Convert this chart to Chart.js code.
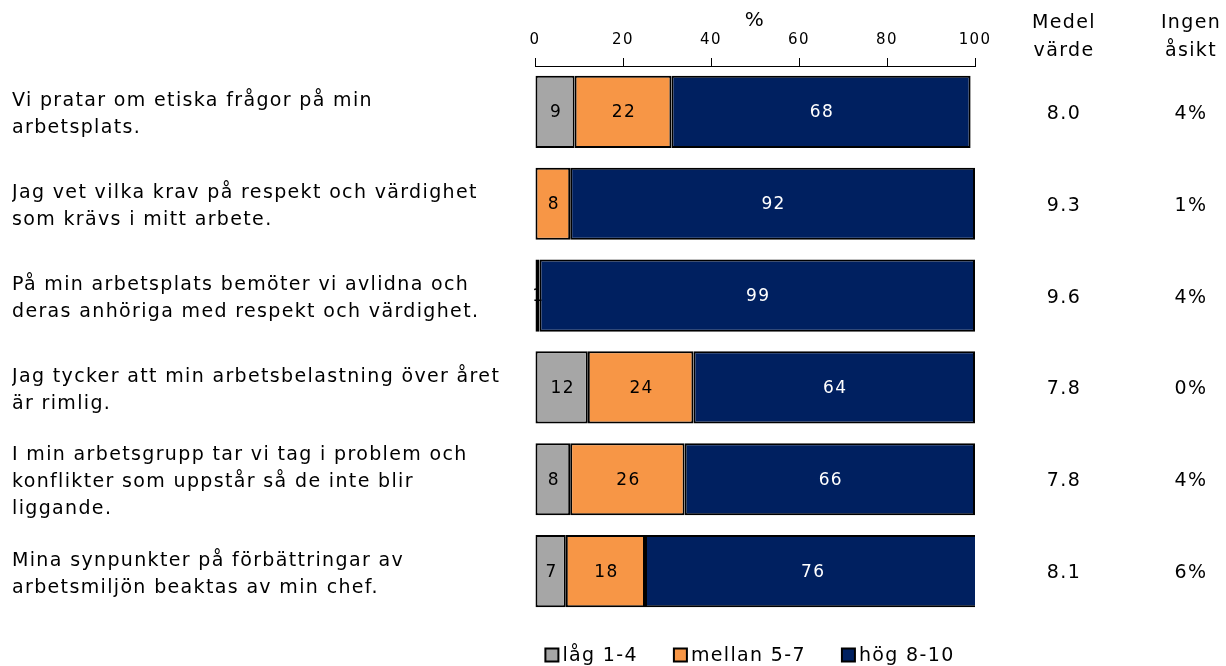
<!DOCTYPE html>
<html>
<head>
<meta charset="utf-8">
<script src="https://cdn.jsdelivr.net/npm/chart.js@4/dist/chart.umd.min.js"></script>
<style>
  body { margin: 0; background: #fff; }
</style>
</head>
<body>
<canvas id="chart" width="1226" height="666"></canvas>
<script>
const categories = [
  ['Vi pratar om etiska frågor på min', 'arbetsplats.'],
  ['Jag vet vilka krav på respekt och värdighet', 'som krävs i mitt arbete.'],
  ['På min arbetsplats bemöter vi avlidna och', 'deras anhöriga med respekt och värdighet.'],
  ['Jag tycker att min arbetsbelastning över året', 'är rimlig.'],
  ['I min arbetsgrupp tar vi tag i problem och', 'konflikter som uppstår så de inte blir', 'liggande.'],
  ['Mina synpunkter på förbättringar av', 'arbetsmiljön beaktas av min chef.']
];
const lag = [9, 0, 0, 12, 8, 7];
const mellan = [22, 8, 1, 24, 26, 18];
const hog = [68, 92, 99, 64, 66, 76];
const medelvarde = ['8.0', '9.3', '9.6', '7.8', '7.8', '8.1'];
const ingenAsikt = ['4%', '1%', '4%', '0%', '4%', '6%'];
const xTicks = [0, 20, 40, 60, 80, 100];
const seriesNames = ['låg 1-4', 'mellan 5-7', 'hög 8-10'];
const colors = ['#a6a6a6', '#f79646', '#002060'];

const FONT = "'DejaVu Sans', Verdana, sans-serif";
const SPACING = '1.35px';

// the original font is wider than DejaVu, so spread the letters a bit
const wideText = {
  id: 'wideText',
  beforeLayout(chart) { chart.ctx.letterSpacing = SPACING; },
  beforeDraw(chart) { chart.ctx.letterSpacing = SPACING; }
};

// text inside the bar segments
const segmentLabels = {
  id: 'segmentLabels',
  afterDatasetsDraw(chart) {
    const ctx = chart.ctx;
    ctx.save();
    ctx.font = '17px ' + FONT;
    ctx.textAlign = 'center';
    ctx.textBaseline = 'middle';
    chart.data.datasets.forEach((ds, i) => {
      const meta = chart.getDatasetMeta(i);
      meta.data.forEach((bar, j) => {
        const v = ds.data[j];
        if (!v) return;
        ctx.fillStyle = i == 2 ? '#fff' : '#000';
        ctx.fillText(String(v), (bar.x + bar.base) / 2 + 1, bar.y + 1);
      });
    });
    ctx.restore();
  }
};

// right hand columns + legend
const extras = {
  id: 'extras',
  afterDraw(chart) {
    const ctx = chart.ctx;
    const yScale = chart.scales.y;
    const area = chart.chartArea;
    ctx.save();
    ctx.font = '19px ' + FONT;
    ctx.fillStyle = '#000';
    ctx.textAlign = 'center';
    ctx.textBaseline = 'middle';
    const colMedel = 1064, colIngen = 1191;
    ctx.fillText('Medel', colMedel, 23);
    ctx.fillText('värde', colMedel, 51);
    ctx.fillText('Ingen', colIngen, 23);
    ctx.fillText('åsikt', colIngen, 51);
    categories.forEach((c, i) => {
      const y = yScale.getPixelForValue(i) + 2;
      ctx.fillText(medelvarde[i], colMedel, y);
      ctx.fillText(ingenAsikt[i], colIngen, y);
    });

    // legend
    const box = 13, gapBox = 4, gapItem = 36;
    const widths = seriesNames.map(n => box + gapBox + ctx.measureText(n).width);
    const total = widths.reduce((a, b) => a + b, 0) + gapItem * (widths.length - 1);
    let x = (area.left + area.right) / 2 - 5 - total / 2;
    const ly = 655;
    ctx.textAlign = 'left';
    seriesNames.forEach((n, i) => {
      ctx.fillStyle = colors[i];
      ctx.fillRect(x, ly - box / 2, box, box);
      ctx.strokeStyle = '#000';
      ctx.lineWidth = 2;
      ctx.strokeRect(x, ly - box / 2, box, box);
      ctx.fillStyle = '#000';
      ctx.fillText(n, x + box + gapBox, ly + 1);
      x += widths[i] + gapItem;
    });
    ctx.restore();
  }
};

const ctx = document.getElementById('chart');

new Chart(ctx, {
  type: 'bar',
  data: {
    labels: categories,
    datasets: [
      { label: seriesNames[0], data: lag, backgroundColor: colors[0] },
      { label: seriesNames[1], data: mellan, backgroundColor: colors[1] },
      { label: seriesNames[2], data: hog, backgroundColor: colors[2] }
    ]
  },
  options: {
    indexAxis: 'y',
    responsive: false,
    animation: false,
    layout: { padding: { left: 12, right: 251, top: 0, bottom: 49 } },
    datasets: {
      bar: {
        borderColor: '#000',
        borderWidth: 2,
        borderSkipped: false,
        categoryPercentage: 0.785,
        barPercentage: 1
      }
    },
    plugins: {
      legend: { display: false },
      tooltip: { enabled: false }
    },
    scales: {
      x: {
        position: 'top',
        stacked: true,
        min: 0,
        max: 100,
        afterBuildTicks: s => { s.ticks = xTicks.map(v => ({ value: v })); },
        afterFit: s => { s.height = 66; },
        ticks: { color: '#000', font: { size: 15, family: FONT }, padding: 9, maxRotation: 0 },
        grid: { drawOnChartArea: false, drawTicks: true, tickLength: 8, color: '#000', lineWidth: 1 },
        border: { color: '#000', width: 1 },
        title: { display: true, text: '%', color: '#000', font: { size: 20, family: FONT }, padding: { top: 9, bottom: 0 } }
      },
      y: {
        stacked: true,
        afterFit: s => { s.width = 523; },
        ticks: { crossAlign: 'far', labelOffset: 3, color: '#000', font: { size: 19, family: FONT, lineHeight: 1.42 } },
        grid: { display: false },
        border: { display: false }
      }
    }
  },
  plugins: [wideText, segmentLabels, extras]
});
</script>
</body>
</html>
